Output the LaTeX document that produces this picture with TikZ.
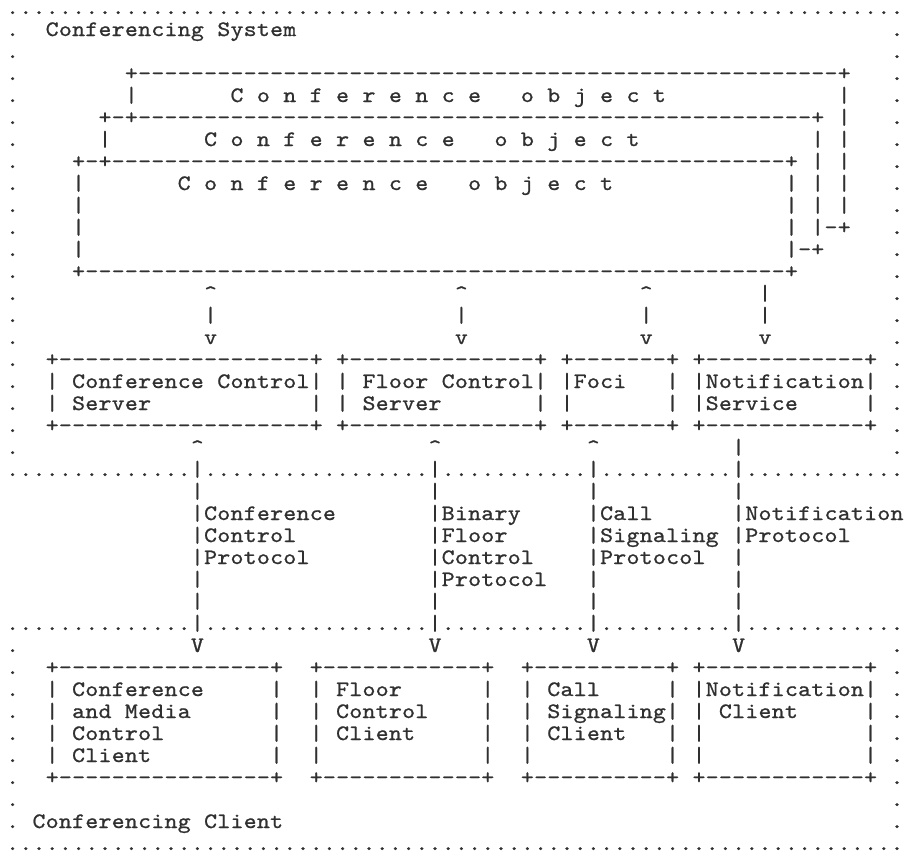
\documentclass[tikz,border=0pt]{standalone}
\usepackage{fontspec}
\newfontfamily\gridfont{lmmono10-regular.otf}[FakeBold=0.9,FakeStretch=1.12]
\definecolor{ink}{HTML}{303030}
% one character cell of the 68 x 39 text grid: column #1, row #2
\newcommand{\gch}[3]{\node[ch] (c#1r#2) at ({12.6+13.2*(#1)},{14+22*(#2)}) {#3};}
% the same character along a row: columns #1..#2 of row #3
\newcommand{\chrow}[4]{\foreach \k in {#1,...,#2}{\gch{\k}{#3}{#4}}}
% the same character down a column: column #1, rows #2..#3
\newcommand{\chcol}[4]{\foreach \k in {#2,...,#3}{\gch{#1}{\k}{#4}}}
% a framed box with corners at columns #1,#3 and rows #2,#4
\newcommand{\chbox}[4]{%
  \pgfmathtruncatemacro\bxa{#1+1}\pgfmathtruncatemacro\bxb{#3-1}%
  \pgfmathtruncatemacro\bya{#2+1}\pgfmathtruncatemacro\byb{#4-1}%
  \chrow{\bxa}{\bxb}{#2}{-}\chrow{\bxa}{\bxb}{#4}{-}%
  \chcol{#1}{\bya}{\byb}{|}\chcol{#3}{\bya}{\byb}{|}%
  \gch{#1}{#2}{+}\gch{#3}{#2}{+}\gch{#1}{#4}{+}\gch{#3}{#4}{+}}
% a word set one character per cell, from column #2 of row #3, every #1 columns
\makeatletter
\newcount\gpos
\newcommand{\gword}[4][1]{%
  \global\gpos=#2\relax
  \@tfor\gtok:=#4\do{%
    \gch{\the\gpos}{#3}{\gtok}%
    \global\advance\gpos by #1\relax}}
\makeatother
\begin{document}
\begin{tikzpicture}[x=0.75pt,y=-0.75pt,
  ch/.style={font=\gridfont\fontsize{16.5pt}{16.5pt}\selectfont,
    text=ink, inner sep=0pt, outer sep=0pt, anchor=base}]
\useasboundingbox[fill=white] (0,0) rectangle (907,850);

% ---- dotted outlines of the system and the client ----
\chrow{0}{67}{0}{.}
\chrow{0}{67}{38}{.}
\chcol{0}{1}{20}{.}  \chcol{67}{1}{20}{.}
\chcol{0}{29}{37}{.} \chcol{67}{29}{37}{.}
\foreach \r in {21,28}{%
  \chrow{0}{13}{\r}{.}\chrow{15}{31}{\r}{.}\chrow{33}{43}{\r}{.}%
  \chrow{45}{54}{\r}{.}\chrow{56}{67}{\r}{.}}
\gword{3}{1}{Conferencing}\gword{16}{1}{System}
\gword{2}{37}{Conferencing}\gword{15}{37}{Client}

% ---- stacked conference objects ----
% back
\gch{9}{3}{+}\chrow{10}{62}{3}{-}\gch{63}{3}{+}
\gch{9}{4}{|}\chcol{63}{4}{9}{|}\gch{62}{10}{-}\gch{63}{10}{+}
\gword[2]{17}{4}{Conference}\gword[2]{39}{4}{object}
% middle
\gch{7}{5}{+}\gch{8}{5}{-}\gch{9}{5}{+}\chrow{10}{60}{5}{-}\gch{61}{5}{+}
\gch{7}{6}{|}\chcol{61}{6}{10}{|}\gch{60}{11}{-}\gch{61}{11}{+}
\gword[2]{15}{6}{Conference}\gword[2]{37}{6}{object}
% front
\gch{5}{7}{+}\gch{6}{7}{-}\gch{7}{7}{+}\chrow{8}{58}{7}{-}\gch{59}{7}{+}
\chcol{5}{8}{11}{|}\chcol{59}{8}{11}{|}
\gch{5}{12}{+}\chrow{6}{58}{12}{-}\gch{59}{12}{+}
\gword[2]{13}{8}{Conference}\gword[2]{35}{8}{object}

% ---- links between the objects and the servers ----
\foreach \c in {15,34,48}{\gch{\c}{13}{\textasciicircum}\gch{\c}{14}{|}\gch{\c}{15}{v}}
\chcol{57}{13}{14}{|}\gch{57}{15}{v}

% ---- servers ----
\chbox{3}{16}{23}{19}
\chbox{25}{16}{40}{19}
\chbox{42}{16}{50}{19}
\chbox{52}{16}{65}{19}
\gword{5}{17}{Conference}\gword{16}{17}{Control}\gword{5}{18}{Server}
\gword{27}{17}{Floor}\gword{33}{17}{Control}\gword{27}{18}{Server}
\gword{43}{17}{Foci}
\gword{53}{17}{Notification}\gword{53}{18}{Service}

% ---- protocols between servers and clients ----
\foreach \c in {14,32,44}{\gch{\c}{20}{\textasciicircum}\chcol{\c}{21}{28}{|}\gch{\c}{29}{V}}
\chcol{55}{20}{28}{|}\gch{55}{29}{V}
\gword{15}{23}{Conference}\gword{15}{24}{Control}\gword{15}{25}{Protocol}
\gword{33}{23}{Binary}\gword{33}{24}{Floor}\gword{33}{25}{Control}\gword{33}{26}{Protocol}
\gword{45}{23}{Call}\gword{45}{24}{Signaling}\gword{45}{25}{Protocol}
\gword{56}{23}{Notification}\gword{56}{24}{Protocol}

% ---- clients ----
\chbox{3}{30}{20}{35}
\chbox{23}{30}{36}{35}
\chbox{39}{30}{50}{35}
\chbox{52}{30}{65}{35}
\gword{5}{31}{Conference}\gword{5}{32}{and}\gword{9}{32}{Media}
\gword{5}{33}{Control}\gword{5}{34}{Client}
\gword{25}{31}{Floor}\gword{25}{32}{Control}\gword{25}{33}{Client}
\gword{41}{31}{Call}\gword{41}{32}{Signaling}\gword{41}{33}{Client}
\gword{53}{31}{Notification}\gword{54}{32}{Client}
\end{tikzpicture}
\end{document}
